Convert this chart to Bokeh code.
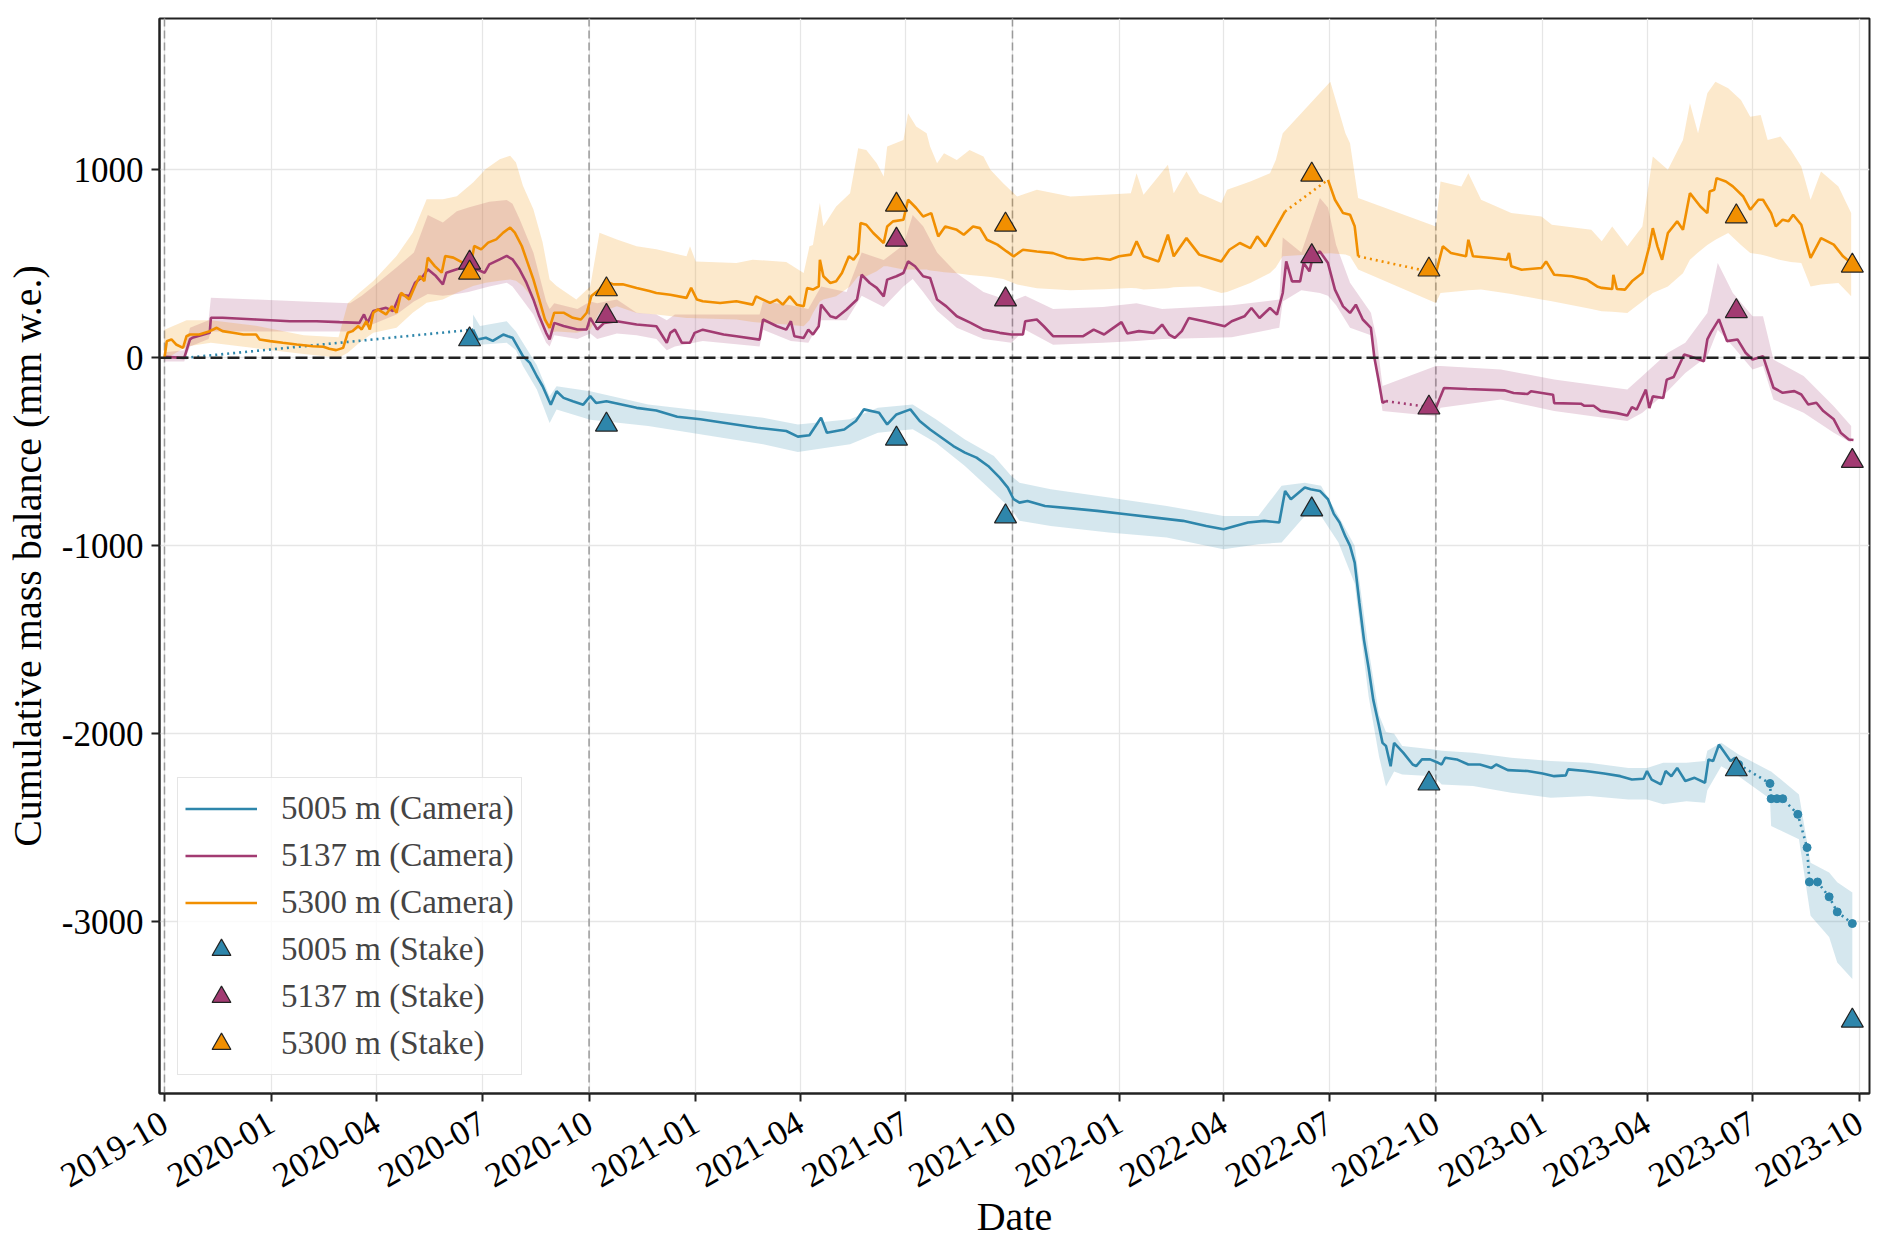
import pandas as pd
from math import pi
from bokeh.plotting import figure
from bokeh.models import (Range1d, FixedTicker, DatetimeTickFormatter, PrintfTickFormatter,
                          Span, Legend, LegendItem)
from bokeh.embed import file_html
from bokeh.resources import INLINE

# all x values are days since ORIGIN, all y values in mm w.e.
ORIGIN = pd.Timestamp("2019-10-01")

season_starts = ["2019-10-01", "2020-10-01", "2021-10-01", "2022-10-01"]
tick_dates = ["2019-10-01", "2020-01-01", "2020-04-01", "2020-07-01", "2020-10-01",
              "2021-01-01", "2021-04-01", "2021-07-01", "2021-10-01", "2022-01-01",
              "2022-04-01", "2022-07-01", "2022-10-01", "2023-01-01", "2023-04-01",
              "2023-07-01", "2023-10-01"]
y_ticks = [-3000, -2000, -1000, 0, 1000]

# --- 5005 m camera ---
cam5005_day = [266, 270, 277, 283, 292, 296, 300, 305, 309, 315,
               321, 326, 331, 333, 338, 344, 352, 361, 367, 372,
               381, 395, 407, 424, 442, 462, 482, 511, 536, 546,
               556, 566, 571, 586, 596, 603, 616, 623, 631, 643,
               651, 660, 670, 680, 690, 700, 710, 720, 727, 732,
               737, 744, 759, 784, 804, 829, 854, 878, 898, 913,
               923, 934, 948, 961, 966, 971, 983, 988, 996, 1003,
               1008, 1013, 1018, 1022, 1026, 1030, 1034, 1038, 1042, 1047,
               1050, 1053, 1057, 1060, 1068, 1076, 1079, 1084, 1091, 1098,
               1101, 1104, 1114, 1124, 1134, 1144, 1148, 1158, 1175, 1188,
               1198, 1208, 1210, 1225, 1241, 1255, 1265, 1275, 1278, 1282,
               1290, 1294, 1299, 1304, 1311, 1319, 1328, 1331, 1335, 1340,
               1345, 1350, 1354, 1357]
cam5005_mb = [150, 98, 107, 90, 124, 115, 107, 53, 9, -27,
              -98, -151, -222, -249, -178, -213, -231, -249, -204, -240,
              -231, -249, -266, -280, -313, -327, -345, -372, -389, -419,
              -412, -319, -398, -381, -336, -274, -292, -354, -301, -274,
              -336, -381, -425, -469, -504, -531, -575, -637, -690, -752,
              -770, -761, -788, -802, -814, -832, -850, -867, -894, -912,
              -894, -876, -867, -876, -708, -752, -690, -699, -708, -752,
              -830, -876, -950, -1000, -1089, -1300, -1500, -1650, -1818, -1959,
              -2048, -2065, -2172, -2048, -2101, -2163, -2172, -2136, -2136, -2154,
              -2163, -2127, -2136, -2163, -2163, -2181, -2163, -2193, -2198, -2211,
              -2225, -2221, -2189, -2198, -2211, -2225, -2243, -2239, -2198, -2243,
              -2269, -2198, -2225, -2181, -2251, -2234, -2260, -2136, -2145, -2057,
              -2101, -2145, -2127, -2163]
cam5005_gap_day = [18]
cam5005_gap_mb = [0]
cam5005_tail_day = [1384, 1385, 1390, 1395, 1408, 1416, 1418, 1425, 1435, 1442, 1455]
cam5005_tail_mb = [-2264, -2345, -2345, -2345, -2428, -2605, -2788, -2788, -2867, -2947, -3009]

band5005_day = [266, 272, 295, 303, 309, 321, 332, 338, 367, 417,
                516, 546, 591, 615, 645, 665, 690, 715, 730, 737,
                764, 814, 864, 913, 943, 963, 983, 997, 1012, 1026,
                1038, 1047, 1053, 1060, 1067, 1094, 1101, 1128, 1161, 1195,
                1228, 1262, 1278, 1292, 1312, 1328, 1330, 1342, 1357, 1384,
                1385, 1409, 1419, 1435, 1442, 1455]
band5005_hi = [230, 170, 195, 140, 80, -40, -204, -151, -178, -248,
               -319, -354, -327, -265, -248, -327, -434, -522, -628, -664,
               -699, -743, -788, -841, -841, -681, -664, -681, -841, -1000,
               -1550, -1900, -1990, -2000, -2065, -2083, -2090, -2101, -2127, -2145,
               -2154, -2181, -2181, -2154, -2154, -2145, -2090, -2048, -2110, -2198,
               -2200, -2322, -2685, -2738, -2790, -2844]
band5005_lo = [80, 70, 80, 40, -44, -169, -346, -275, -329, -363,
               -460, -501, -460, -398, -380, -451, -575, -717, -805, -867,
               -894, -929, -956, -1018, -991, -982, -841, -841, -982, -1200,
               -1800, -2120, -2280, -2200, -2216, -2225, -2270, -2278, -2313, -2340,
               -2331, -2349, -2349, -2375, -2358, -2366, -2300, -2172, -2225, -2345,
               -2490, -2561, -2968, -3080, -3216, -3304]

# --- 5137 m camera ---
cam5137_a_day = [0, 17, 22, 24, 39, 40, 50, 79, 108, 131,
                 151, 168, 172, 175, 180, 191, 197, 203, 211, 216,
                 223, 227, 234, 240, 243, 252, 262, 269, 276, 280,
                 289, 295, 300, 306, 312, 318, 323, 329, 332, 336,
                 344, 356, 364, 367, 373, 379, 390, 407, 424, 433,
                 436, 440, 446, 453, 457, 464, 482, 493, 513, 516,
                 528, 536, 540, 543, 551, 555, 559, 564, 566, 574,
                 579, 588, 597, 601, 608, 614, 620, 623, 631, 637,
                 641, 647, 654, 660, 666, 674, 683, 695, 706, 720,
                 730, 740, 742, 752, 758, 766, 781, 792, 801, 810,
                 814, 825, 830, 840, 853, 860, 866, 871, 877, 883,
                 896, 914, 920, 931, 937, 944, 953, 959, 964, 967,
                 972, 979, 982, 987, 990, 996, 1003, 1009, 1016, 1022,
                 1027, 1033, 1040, 1043, 1047, 1050, 1053]
cam5137_a_mb = [5, 0, 98, 107, 133, 213, 213, 204, 195, 195,
                190, 186, 231, 186, 249, 266, 249, 337, 329, 400,
                435, 471, 435, 391, 453, 471, 488, 471, 453, 497,
                524, 542, 524, 471, 400, 311, 222, 133, 98, 186,
                169, 151, 151, 213, 151, 186, 195, 177, 168, 80,
                133, 150, 80, 80, 133, 150, 124, 115, 97, 204,
                168, 150, 195, 115, 106, 150, 124, 168, 283, 221,
                212, 257, 310, 442, 398, 372, 327, 416, 434, 451,
                513, 487, 434, 425, 310, 274, 221, 186, 150, 133,
                124, 124, 195, 204, 168, 115, 115, 115, 150, 124,
                142, 190, 130, 142, 133, 177, 124, 106, 142, 212,
                195, 168, 195, 221, 265, 212, 265, 230, 345, 513,
                407, 407, 504, 460, 540, 566, 504, 363, 274, 239,
                283, 204, 159, 0, -133, -239, -230]
cam5137_b_day = [1096, 1100, 1103, 1123, 1155, 1163, 1175, 1178, 1197, 1198,
                 1221, 1224, 1232, 1238, 1252, 1261, 1265, 1269, 1277, 1280,
                 1283, 1292, 1295, 1301, 1310, 1315, 1327, 1330, 1333, 1340,
                 1347, 1356, 1363, 1369, 1378, 1387, 1395, 1405, 1411, 1417,
                 1424, 1430, 1439, 1445, 1452, 1456]
cam5137_b_mb = [-267, -205, -160, -166, -173, -187, -192, -178, -196, -241,
                -244, -255, -255, -282, -294, -307, -262, -276, -169, -267,
                -205, -214, -116, -102, 18, 9, -18, 98, 134, 205,
                89, 98, 27, -9, 9, -159, -186, -177, -195, -248,
                -239, -283, -327, -398, -434, -437]

band5137_day = [0, 17, 22, 38, 40, 80, 120, 160, 170, 180,
                200, 215, 227, 240, 252, 262, 280, 295, 300, 306,
                318, 329, 332, 336, 356, 367, 373, 390, 407, 424,
                433, 440, 464, 513, 516, 540, 555, 566, 588, 601,
                620, 637, 645, 654, 666, 683, 706, 730, 742, 766,
                809, 838, 860, 920, 961, 964, 980, 996, 1003, 1010,
                1022, 1040, 1045, 1050, 1096, 1100, 1152, 1198, 1261, 1274,
                1296, 1311, 1330, 1339, 1352, 1369, 1378, 1387, 1413, 1439,
                1454]
band5137_hi = [30, 40, 160, 200, 320, 310, 300, 290, 330, 380,
               480, 560, 760, 720, 780, 800, 830, 840, 820, 740,
               560, 300, 260, 290, 260, 300, 290, 310, 240, 230,
               200, 230, 230, 230, 300, 280, 260, 380, 350, 560,
               520, 600, 760, 700, 560, 450, 350, 300, 330, 260,
               270, 290, 260, 280, 310, 640, 560, 850, 800, 600,
               400, 240, 100, -150, -44, -44, -62, -115, -168, -97,
               27, 80, 239, 504, 345, 221, 221, -9, -97, -257,
               -363]
band5137_lo = [-20, -20, 60, 100, 140, 140, 140, 140, 160, 180,
               230, 300, 340, 330, 340, 350, 380, 400, 380, 330,
               230, 80, 60, 120, 100, 130, 100, 130, 120, 100,
               40, 60, 90, 60, 150, 90, 80, 200, 200, 330,
               270, 380, 420, 350, 250, 160, 100, 80, 150, 70,
               80, 90, 100, 110, 160, 300, 360, 345, 330, 280,
               160, 120, -80, -283, -310, -265, -221, -283, -336, -292,
               -177, -80, 9, 150, 62, -62, -44, -221, -292, -398,
               -451]

# --- 5300 m camera ---
cam5300_a_day = [0, 2, 6, 10, 16, 19, 22, 30, 39, 42,
                 45, 50, 59, 68, 79, 82, 91, 102, 114, 122,
                 128, 137, 142, 148, 154, 158, 162, 167, 170, 174,
                 177, 180, 184, 191, 196, 200, 204, 211, 216, 220,
                 224, 227, 233, 239, 242, 249, 257, 265, 267, 273,
                 279, 286, 292, 298, 302, 308, 312, 318, 323, 328,
                 332, 336, 344, 352, 359, 364, 368, 375, 380, 387,
                 395, 407, 418, 424, 436, 450, 454, 459, 464, 479,
                 493, 507, 510, 522, 528, 533, 539, 545, 551, 554,
                 559, 564, 565, 568, 574, 579, 584, 590, 594, 598,
                 600, 605, 611, 620, 623, 628, 637, 641, 648, 654,
                 661, 667, 673, 683, 689, 697, 703, 709, 718, 726,
                 732, 740, 752, 766, 778, 792, 804, 815, 823, 833,
                 838, 844, 857, 865, 870, 881, 892, 911, 918, 927,
                 936, 942, 949, 957, 962, 966]
cam5300_a_mb = [0, 89, 98, 71, 53, 115, 124, 124, 142, 151,
                160, 142, 133, 124, 124, 98, 89, 80, 71, 66,
                62, 59, 48, 41, 53, 133, 142, 169, 151, 195,
                151, 240, 258, 231, 275, 240, 346, 311, 382, 435,
                408, 533, 488, 453, 542, 533, 506, 524, 595, 577,
                613, 630, 666, 693, 666, 595, 524, 417, 311, 204,
                160, 240, 240, 213, 204, 240, 329, 364, 408, 391,
                391, 372, 355, 345, 336, 319, 372, 310, 301, 292,
                301, 283, 327, 292, 310, 283, 327, 283, 274, 372,
                363, 380, 522, 434, 398, 407, 451, 540, 522, 557,
                717, 708, 664, 611, 699, 726, 735, 841, 797, 752,
                770, 646, 699, 681, 655, 699, 690, 628, 602, 566,
                540, 575, 566, 557, 531, 522, 531, 522, 540, 549,
                620, 540, 513, 655, 540, 637, 549, 513, 575, 611,
                584, 646, 593, 681, 735, 779]
cam5300_b_day = [1003, 1009, 1016, 1022, 1026, 1029]
cam5300_b_mb = [947, 841, 770, 761, 700, 540]
cam5300_c_day = [1096, 1102, 1109, 1122, 1124, 1128, 1144, 1157, 1159, 1161,
                 1170, 1187, 1191, 1198, 1213, 1226, 1235, 1239, 1248, 1249,
                 1252, 1259, 1265, 1274, 1280, 1283, 1287, 1291, 1296, 1304,
                 1309, 1315, 1324, 1330, 1332, 1336, 1338, 1346, 1352, 1361,
                 1367, 1374, 1378, 1385, 1389, 1395, 1400, 1404, 1411, 1419,
                 1428, 1439, 1447, 1454]
cam5300_c_mb = [451, 593, 558, 540, 628, 540, 531, 522, 558, 487,
                469, 478, 513, 442, 434, 416, 380, 372, 366, 442,
                366, 363, 407, 451, 593, 690, 593, 522, 664, 726,
                681, 876, 805, 770, 885, 894, 956, 938, 912, 858,
                788, 841, 841, 770, 699, 735, 726, 761, 708, 531,
                637, 602, 540, 504]

band5300_day = [0, 19, 40, 80, 120, 150, 158, 168, 180, 200,
                214, 226, 240, 252, 266, 277, 289, 298, 303, 309,
                318, 326, 332, 338, 355, 367, 375, 390, 407, 424,
                450, 453, 458, 493, 507, 536, 551, 556, 559, 565,
                568, 579, 591, 598, 605, 614, 620, 623, 637, 641,
                648, 657, 660, 666, 672, 683, 694, 706, 712, 723,
                735, 752, 781, 810, 833, 838, 844, 865, 870, 881,
                892, 911, 916, 936, 953, 958, 964, 1005, 1018, 1022,
                1029, 1096, 1100, 1118, 1124, 1135, 1161, 1187, 1196, 1230,
                1239, 1248, 1261, 1274, 1283, 1296, 1309, 1315, 1322, 1330,
                1337, 1348, 1359, 1367, 1376, 1382, 1393, 1402, 1411, 1419,
                1428, 1443, 1454]
band5300_hi = [150, 200, 200, 170, 120, 110, 290, 346, 409, 542,
               666, 844, 844, 860, 933, 1004, 1057, 1075, 1039, 915,
               790, 613, 417, 382, 311, 380, 666, 630, 593, 577,
               540, 593, 513, 504, 522, 510, 451, 593, 600, 823,
               700, 805, 876, 1115, 1106, 1035, 965, 1124, 1159, 1301,
               1230, 1195, 1124, 1035, 1088, 1053, 1106, 1071, 1000, 929,
               858, 894, 858, 867, 876, 982, 867, 1027, 876, 991,
               876, 823, 894, 938, 982, 1053, 1195, 1469, 1195, 1142,
               850, 699, 938, 912, 982, 841, 770, 752, 708, 681,
               620, 699, 593, 699, 1071, 1000, 1159, 1354, 1195, 1407,
               1469, 1434, 1372, 1283, 1292, 1159, 1177, 1106, 1018, 841,
               991, 912, 770]
band5300_lo = [-10, 60, 80, 50, 20, 0, 27, 80, 133, 160,
               240, 293, 311, 346, 382, 400, 410, 417, 410, 382,
               311, 204, 133, 140, 133, 151, 240, 275, 239, 230,
               212, 212, 210, 204, 190, 177, 168, 200, 239, 300,
               310, 327, 380, 434, 434, 460, 487, 487, 470, 470,
               470, 470, 465, 460, 455, 450, 440, 434, 430, 420,
               390, 370, 360, 365, 372, 370, 363, 370, 375, 378,
               380, 345, 350, 398, 451, 480, 540, 557, 550, 540,
               470, 292, 345, 355, 360, 363, 340, 310, 301, 260,
               248, 245, 239, 300, 345, 380, 450, 522, 560, 600,
               628, 664, 600, 558, 550, 540, 520, 510, 504, 380,
               390, 398, 327]

# --- stake readings ---
stake_day = [263, 381, 631, 725, 989, 1090, 1355, 1455]
stake5005 = [98, -356, -430, -844, -807, -2265, -2189, -3526]
stake5137 = [506, 222, 628, 310, 540, -265, 248, -549]
stake5300 = [453, 364, 814, 708, 974, 469, 752, 490]

BLUE, MAGENTA, ORANGE = "#2E86AB", "#A23B72", "#F18F01"
FONT = "Liberation Serif"


def to_dt(days):
    return list((ORIGIN + pd.to_timedelta(days, unit="D")).to_pydatetime())


def ms(date_str):
    return pd.Timestamp(date_str).value / 1e6


p = figure(frame_width=1710, frame_height=1075, x_axis_type="datetime",
           x_range=Range1d(ORIGIN - pd.Timedelta(days=4.3), ORIGIN + pd.Timedelta(days=1469.8)),
           y_range=Range1d(-3913, 1805),
           min_border_left=159, min_border_right=6, min_border_top=18, min_border_bottom=120,
           output_backend="svg", toolbar_location=None)

# uncertainty bands
p.varea(x=to_dt(band5005_day), y1=band5005_lo, y2=band5005_hi, fill_color=BLUE, fill_alpha=0.2)
p.varea(x=to_dt(band5137_day), y1=band5137_lo, y2=band5137_hi, fill_color=MAGENTA, fill_alpha=0.2)
p.varea(x=to_dt(band5300_day), y1=band5300_lo, y2=band5300_hi, fill_color=ORANGE, fill_alpha=0.2)

LW = 2.6
DOT = "2 4"

# 5005 m
l5005 = p.line(to_dt(cam5005_day), cam5005_mb, line_color=BLUE, line_width=LW)
p.line(to_dt(cam5005_gap_day + cam5005_day[:1]), cam5005_gap_mb + cam5005_mb[:1],
       line_color=BLUE, line_width=LW, line_dash=DOT)
tail_d = cam5005_day[-1:] + cam5005_tail_day
tail_v = cam5005_mb[-1:] + cam5005_tail_mb
p.line(to_dt(tail_d), tail_v, line_color=BLUE, line_width=LW, line_dash=DOT)
p.scatter(to_dt(tail_d), tail_v, size=8, fill_color=BLUE, line_color=BLUE)

# 5137 m
l5137 = p.line(to_dt(cam5137_a_day), cam5137_a_mb, line_color=MAGENTA, line_width=LW)
p.line(to_dt(cam5137_b_day), cam5137_b_mb, line_color=MAGENTA, line_width=LW)
p.line(to_dt(cam5137_a_day[-1:] + cam5137_b_day[:1]), cam5137_a_mb[-1:] + cam5137_b_mb[:1],
       line_color=MAGENTA, line_width=LW, line_dash=DOT)

# 5300 m
l5300 = p.line(to_dt(cam5300_a_day), cam5300_a_mb, line_color=ORANGE, line_width=LW)
p.line(to_dt(cam5300_b_day), cam5300_b_mb, line_color=ORANGE, line_width=LW)
p.line(to_dt(cam5300_c_day), cam5300_c_mb, line_color=ORANGE, line_width=LW)
p.line(to_dt(cam5300_a_day[-1:] + cam5300_b_day[:1]), cam5300_a_mb[-1:] + cam5300_b_mb[:1],
       line_color=ORANGE, line_width=LW, line_dash=DOT)
p.line(to_dt(cam5300_b_day[-1:] + cam5300_c_day[:1]), cam5300_b_mb[-1:] + cam5300_c_mb[:1],
       line_color=ORANGE, line_width=LW, line_dash=DOT)

# stakes
s5005 = p.scatter(to_dt(stake_day), stake5005, marker="triangle", size=22,
                  fill_color=BLUE, line_color="#222222", line_width=1.2)
s5137 = p.scatter(to_dt(stake_day), stake5137, marker="triangle", size=22,
                  fill_color=MAGENTA, line_color="#222222", line_width=1.2)
s5300 = p.scatter(to_dt(stake_day), stake5300, marker="triangle", size=22,
                  fill_color=ORANGE, line_color="#222222", line_width=1.2)

# hydrological year boundaries and zero line
for d in season_starts:
    p.add_layout(Span(location=ms(d), dimension="height", line_color="#9a9a9a",
                      line_dash="8 4", line_width=1.5, level="underlay"))
p.add_layout(Span(location=0, dimension="width", line_color="#222222",
                  line_dash="12 5", line_width=2.5))

# axes
p.xaxis.ticker = FixedTicker(ticks=[ms(d) for d in tick_dates])
p.xaxis.formatter = DatetimeTickFormatter(days="%Y-%m", months="%Y-%m", years="%Y-%m")
p.xaxis.major_label_orientation = pi / 6
p.yaxis.ticker = FixedTicker(ticks=y_ticks)
p.yaxis.formatter = PrintfTickFormatter(format="%d")
p.xaxis.axis_label = "Date"
p.yaxis.axis_label = "Cumulative mass balance (mm w.e.)"
for ax in (p.xaxis, p.yaxis):
    ax.axis_label_text_font = FONT
    ax.axis_label_text_font_size = "40px"
    ax.axis_label_text_font_style = "normal"
    ax.axis_label_text_color = "black"
    ax.major_label_text_font = FONT
    ax.major_label_text_font_size = "35px"
    ax.major_label_text_color = "black"
    ax.axis_line_color = "#222222"
    ax.axis_line_width = 2
    ax.major_tick_line_color = "#222222"
    ax.major_tick_line_width = 2
    ax.major_tick_out = 8
    ax.major_tick_in = 0
    ax.minor_tick_line_color = None
p.xaxis.major_label_standoff = 18
p.xaxis.axis_label_standoff = -8
p.yaxis.major_label_standoff = 8
p.yaxis.axis_label_standoff = 9

p.xgrid.grid_line_color = "#e6e6e6"
p.ygrid.grid_line_color = "#e6e6e6"
p.xgrid.grid_line_width = 1.3
p.ygrid.grid_line_width = 1.3
p.outline_line_color = "#222222"
p.outline_line_width = 2

legend = Legend(items=[
    LegendItem(label="5005 m (Camera)", renderers=[l5005]),
    LegendItem(label="5137 m (Camera)", renderers=[l5137]),
    LegendItem(label="5300 m (Camera)", renderers=[l5300]),
    LegendItem(label="5005 m (Stake)", renderers=[s5005]),
    LegendItem(label="5137 m (Stake)", renderers=[s5137]),
    LegendItem(label="5300 m (Stake)", renderers=[s5300]),
], location="bottom_left")
legend.label_text_font = FONT
legend.label_text_font_size = "33px"
legend.glyph_width = 72
legend.glyph_height = 47
legend.label_height = 47
legend.spacing = 0
legend.padding = 7
legend.margin = 18
legend.label_standoff = 24
legend.border_line_color = "#cccccc"
legend.border_line_width = 1.5
legend.background_fill_alpha = 0.8
p.add_layout(legend)

open("out.html", "w").write(file_html(p, INLINE))
